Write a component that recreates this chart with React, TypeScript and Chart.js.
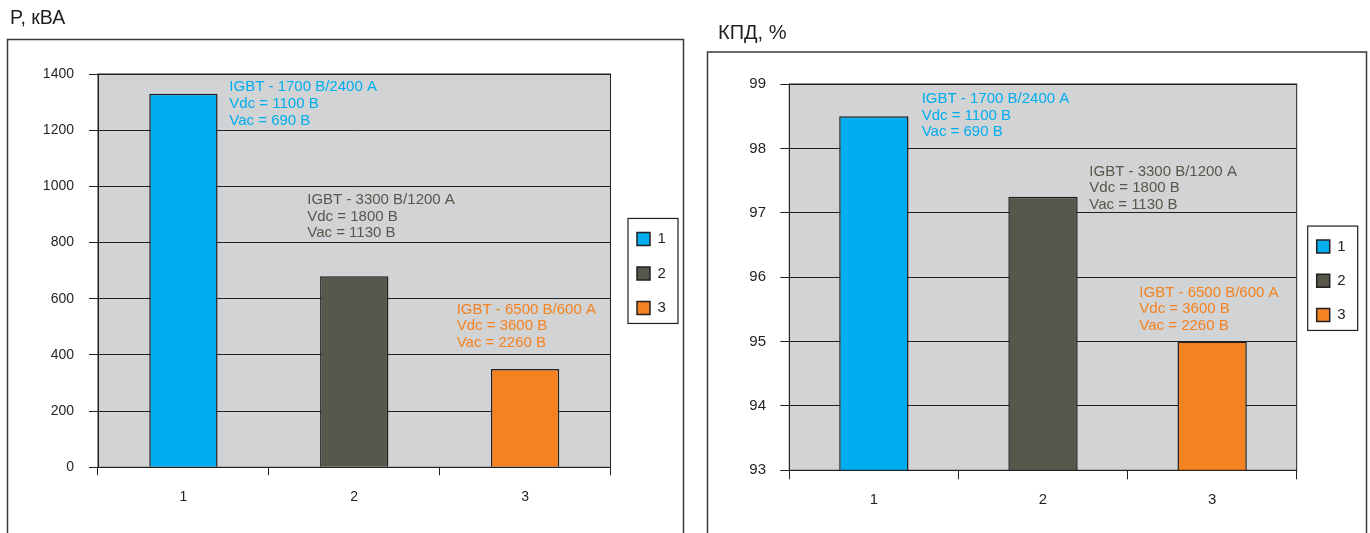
import React, { useEffect, useRef } from 'react';
import { Chart, registerables } from 'chart.js';

Chart.register(...registerables);

const FONT_FAMILY = '"Liberation Sans", Arial, Helvetica, sans-serif';
const INK = '#231f20';
const PLOT_BG = '#d1d3d4';

// ---- data ----
const categories = ['1', '2', '3'];
const seriesLabels = ['1', '2', '3'];
const seriesColors = ['#00aeef', '#58574b', '#f58220'];
const powerValues = [1330, 680, 350];
const efficiencyValues = [98.5, 97.25, 95.0];
const powerTicks = [0, 200, 400, 600, 800, 1000, 1200, 1400];
const efficiencyTicks = [93, 94, 95, 96, 97, 98, 99];
const powerTitle = 'P, кВА';
const efficiencyTitle = 'КПД, %';
const noteLines1 = ['IGBT - 1700 В/2400 А', 'Vdc = 1100 В', 'Vac = 690 В'];
const noteLines2 = ['IGBT - 3300 В/1200 А', 'Vdc = 1800 В', 'Vac = 1130 В'];
const noteLines3 = ['IGBT - 6500 В/600 А', 'Vdc = 3600 В', 'Vac = 2260 В'];
const notes = [noteLines1, noteLines2, noteLines3];
// value-axis position of each note's first line
const powerNoteAnchors = [1353, 952, 562];
const efficiencyNoteAnchors = [98.77, 97.64, 95.76];

// ---- layout / style ----
const leftLayout = {
  left: 0, width: 690, height: 533,
  titleSize: 19.5, titlePadTop: 6.5, titlePadBottom: 44.1,
  padLeft: 10, padRight: 9.5, padBottom: 20.7,
  frame: { x: 7.5, y: 39.5, right: 683.5 },
  yAxisWidth: 88, yTickLen: 9, yTickPad: 15, yFont: 14,
  xAxisHeight: 45, xTickLen: 8, xTickPad: 13.6, xFont: 14,
  barPct: 0.4,
  legendWidth: 70, legendDx: 26.5, legendDy: 2.8, legendPad: 19.5, legendFont: 15, legendBox: 13,
  noteDx: [45.9, -47, -68.4], notePitch: 16.7, noteFont: 15,
};

const rightLayout = {
  left: 690, width: 680, height: 533,
  titleSize: 20, titlePadTop: 21.8, titlePadBottom: 38.2,
  padLeft: 28, padRight: 8.3, padBottom: 17.7,
  frame: { x: 17.5, y: 52, right: 676.5 },
  yAxisWidth: 71.3, yTickLen: 9, yTickPad: 14.3, yFont: 15,
  xAxisHeight: 45, xTickLen: 9, xTickPad: 11.7, xFont: 15,
  barPct: 0.41,
  legendWidth: 65, legendDx: 20, legendDy: 3.6, legendPad: 19.2, legendFont: 15, legendBox: 13,
  noteDx: [47.8, 46.3, -72.8], notePitch: 16.7, noteFont: 15,
};

type Spec = {
  title: string;
  values: number[];
  ticks: number[];
  anchors: number[];
  L: typeof leftLayout;
};

function makePlugin(spec: Spec) {
  const L = spec.L;
  return {
    id: 'decor',
    afterInit(chart: any) {
      const lg = chart.legend;
      if (lg) {
        const fit = lg.fit.bind(lg);
        lg.fit = () => {
          fit();
          lg.width = L.legendWidth;
        };
      }
    },
    beforeDraw(chart: any) {
      const { ctx, chartArea: a } = chart;
      ctx.save();
      ctx.strokeStyle = '#3a3a3a';
      ctx.lineWidth = 1.5;
      ctx.strokeRect(L.frame.x, L.frame.y, L.frame.right - L.frame.x, 800);
      ctx.fillStyle = PLOT_BG;
      ctx.fillRect(a.left, a.top, a.right - a.left, a.bottom - a.top);
      ctx.restore();

      const lg = chart.legend;
      if (lg && lg.legendItems) {
        const p = L.legendPad;
        const itemH = Math.max(L.legendFont, L.legendBox);
        const pitch = itemH + p;
        const n = lg.legendItems.length;
        const colH = n * pitch;
        const mid = (a.top + a.bottom) / 2 + L.legendDy;
        const firstCenter = mid - ((n - 1) / 2) * pitch;
        const y0 = firstCenter - itemH / 2;
        const bx = a.right + L.legendDx;
        lg.left = bx - p;
        lg.right = lg.left + L.legendWidth + 40;
        lg.top = y0 - p - 10;
        lg.bottom = y0 + colH + 10;
        lg._frameBox = {
          x1: bx - 9,
          x2: bx + 41,
          y1: firstCenter - 20.5,
          y2: firstCenter + (n - 1) * pitch + 15.5,
        };
      }
    },
    afterDatasetsDraw(chart: any) {
      const { ctx, chartArea: a } = chart;
      const xs = chart.scales.x;
      const ys = chart.scales.y;
      ctx.save();
      ctx.strokeStyle = INK;
      ctx.lineWidth = 1;
      ctx.strokeRect(a.left, a.top, a.right - a.left, a.bottom - a.top);
      ctx.font = `${L.noteFont}px ${FONT_FAMILY}`;
      ctx.textAlign = 'left';
      ctx.textBaseline = 'middle';
      notes.forEach((lines, i) => {
        const x = xs.getPixelForValue(i) + L.noteDx[i];
        const y = ys.getPixelForValue(spec.anchors[i]);
        ctx.fillStyle = seriesColors[i];
        lines.forEach((t, k) => ctx.fillText(t, x, y + k * L.notePitch));
      });
      ctx.restore();
    },
    afterDraw(chart: any) {
      const f = chart.legend && chart.legend._frameBox;
      if (!f) return;
      const { ctx } = chart;
      ctx.save();
      ctx.strokeStyle = INK;
      ctx.lineWidth = 1.2;
      ctx.strokeRect(f.x1, f.y1, f.x2 - f.x1, f.y2 - f.y1);
      ctx.restore();
    },
  };
}

function BarPanel({ spec }: { spec: Spec }) {
  const ref = useRef<HTMLCanvasElement | null>(null);
  useEffect(() => {
    if (!ref.current) return;
    const L = spec.L;
    const t = spec.ticks;
    const chart = new Chart(ref.current, {
      type: 'bar',
      data: {
        labels: categories,
        datasets: seriesLabels.map((label, i) => ({
          label,
          data: categories.map((_, j) => (j === i ? spec.values[i] : null)),
          backgroundColor: seriesColors[i],
          borderColor: INK,
          borderWidth: 1.5,
          grouped: false,
          barPercentage: L.barPct,
          categoryPercentage: 1,
        })),
      },
      options: {
        responsive: false,
        animation: false,
        layout: {
          padding: { top: 0, left: L.padLeft, right: L.padRight, bottom: L.padBottom },
        },
        plugins: {
          title: {
            display: true,
            text: spec.title,
            align: 'start',
            color: INK,
            font: { family: FONT_FAMILY, size: L.titleSize, weight: 'normal', lineHeight: 1.2 },
            padding: { top: L.titlePadTop, bottom: L.titlePadBottom },
          },
          legend: {
            display: true,
            position: 'right',
            fullSize: false,
            labels: {
              color: INK,
              font: { family: FONT_FAMILY, size: L.legendFont },
              boxWidth: L.legendBox,
              boxHeight: L.legendBox,
              padding: L.legendPad,
            },
          },
          tooltip: { enabled: false },
        },
        scales: {
          x: {
            offset: true,
            grid: {
              display: true,
              drawOnChartArea: false,
              offset: true,
              tickLength: L.xTickLen,
              color: INK,
              lineWidth: 1,
            },
            border: { display: true, color: INK, width: 1 },
            ticks: {
              color: INK,
              padding: L.xTickPad,
              font: { family: FONT_FAMILY, size: L.xFont, lineHeight: 1.2 },
            },
            afterFit: (s: any) => {
              s.height = L.xAxisHeight;
            },
          },
          y: {
            min: t[0],
            max: t[t.length - 1],
            ticks: {
              stepSize: t[1] - t[0],
              color: INK,
              padding: L.yTickPad,
              font: { family: FONT_FAMILY, size: L.yFont, lineHeight: 1.2 },
              callback: (v: any) => String(v),
            },
            grid: {
              color: INK,
              lineWidth: 1,
              tickLength: L.yTickLen,
            },
            border: { display: true, color: INK, width: 1 },
            afterFit: (s: any) => {
              s.width = L.yAxisWidth;
            },
          },
        },
      },
      plugins: [makePlugin(spec) as any],
    } as any);
    return () => chart.destroy();
  }, [spec]);
  const L = spec.L;
  return (
    <canvas
      ref={ref}
      width={L.width}
      height={L.height}
      style={{ position: 'absolute', left: L.left, top: 0, width: L.width, height: L.height, display: 'block' }}
    />
  );
}

const powerSpec: Spec = {
  title: powerTitle,
  values: powerValues,
  ticks: powerTicks,
  anchors: powerNoteAnchors,
  L: leftLayout,
};
const efficiencySpec: Spec = {
  title: efficiencyTitle,
  values: efficiencyValues,
  ticks: efficiencyTicks,
  anchors: efficiencyNoteAnchors,
  L: rightLayout,
};

export default function App() {
  return (
    <div style={{ position: 'absolute', left: 0, top: 0, width: 1370, height: 533, background: '#fff', overflow: 'hidden' }}>
      <BarPanel spec={powerSpec} />
      <BarPanel spec={efficiencySpec} />
    </div>
  );
}
